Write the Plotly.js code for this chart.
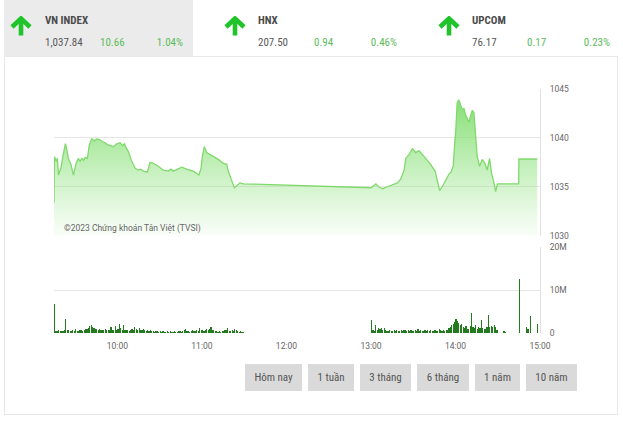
<!DOCTYPE html>
<html><head><meta charset="utf-8">
<script src="https://cdn.plot.ly/plotly-3.0.1.min.js"></script>
<style>
html,body{margin:0;padding:0;background:#fff;width:623px;height:421px;overflow:hidden;font-family:"Roboto Condensed","Liberation Sans Narrow",Roboto,"Noto Sans",sans-serif;}
#card{position:absolute;left:4px;top:56px;width:614px;height:359px;border:1px solid #e8e8e8;box-sizing:border-box;}
#tab1{position:absolute;left:4px;top:0;width:189px;height:56px;background:#ebebeb;}
#chart{position:absolute;left:0;top:0;width:623px;height:421px;}
.t{position:absolute;white-space:nowrap;font-size:11px;line-height:12px;z-index:5;}
.name{font-weight:bold;color:#4a4a4a;}
.val{color:#585858;}
.g{color:#5cbc5c;}
.r{text-align:right;}
.arr{position:absolute;z-index:5;}
.btn{position:absolute;top:364px;height:27px;line-height:27px;background:#dadada;color:#555;font-size:11px;text-align:center;z-index:5;}
</style></head>
<body>
<div id="card"></div>
<div id="tab1"></div>
<div id="chart"></div>
<div id="hdr"></div>
<div id="btns"></div>
<script>
// ---------- data ----------
const indexNames = ["VN INDEX", "HNX", "UPCOM"];
const indexValues = ["1,037.84", "207.50", "76.17"];
const indexChanges = ["10.66", "0.94", "0.17"];
const indexPercents = ["1.04%", "0.46%", "0.23%"];
const rangeButtons = ["Hôm nay", "1 tuần", "3 tháng", "6 tháng", "1 năm", "10 năm"];

const tradeDate = "2023-06-01";
const priceTimes = [
 "09:15:00","09:15:20","09:16:30","09:17:24","09:18:12","09:19:54","09:21:18","09:23:06","09:24:06","09:25:12",
 "09:27:00","09:28:48","09:30:42","09:32:18","09:33:30","09:34:48","09:36:00","09:37:06","09:38:42","09:40:06",
 "09:41:48","09:43:30","09:45:24","09:47:42","09:49:30","09:51:18","09:53:00","09:54:48","09:57:12","09:59:36",
 "10:01:54","10:03:48","10:05:00","10:06:12","10:07:48","10:10:12","10:12:36","10:14:54","10:16:30","10:18:24",
 "10:21:18","10:23:12","10:25:30","10:29:06","10:32:36","10:36:12","10:38:00","10:39:42","10:43:18","10:45:42",
 "10:49:12","10:53:54","10:57:54","10:59:24","11:00:18","11:01:42","11:03:24","11:05:42","11:08:48","11:11:36",
 "11:15:12","11:17:36","11:18:42","11:21:06","11:23:00","11:24:42","11:27:00","11:29:30",
 "13:00:00","13:01:06","13:03:30","13:05:18","13:08:12","13:11:42","13:15:12","13:18:48","13:21:12","13:23:30",
 "13:24:42","13:27:06","13:29:24","13:31:48","13:34:06","13:36:30","13:38:54","13:42:24","13:45:30","13:47:06",
 "13:48:48","13:50:36","13:53:00","13:55:24","13:56:48","13:58:24","13:59:36","14:00:06","14:01:12","14:02:24",
 "14:03:36","14:04:48","14:06:00","14:07:36","14:09:30","14:10:42","14:11:54","14:13:06","14:14:18","14:15:24",
 "14:17:06","14:19:00","14:20:54","14:22:30","14:24:12","14:25:36","14:27:18","14:28:30","14:29:36","14:30:00",
 "14:44:50","14:45:00","14:58:00"
];
const priceValues = [
 1033.4,1038.1,1037.6,1037.9,1036.2,1036.9,1038.1,1039.4,1038.8,1037.9,
 1037.3,1036.2,1037.4,1037.9,1037.6,1037.9,1037.7,1038.0,1037.9,1039.3,
 1039.9,1039.7,1039.9,1039.8,1039.6,1039.5,1039.3,1039.2,1039.1,1039.4,
 1039.5,1039.2,1039.4,1039.0,1038.6,1037.6,1036.9,1036.7,1036.8,1036.6,
 1036.5,1037.5,1037.4,1037.1,1036.7,1036.6,1036.8,1036.6,1036.8,1037.0,
 1036.8,1036.6,1036.2,1036.9,1038.1,1039.1,1038.5,1038.3,1038.1,1037.8,
 1037.4,1037.3,1036.6,1035.7,1034.9,1035.1,1035.4,1035.3,
 1034.9,1035.0,1035.3,1035.0,1034.8,1035.0,1035.2,1035.4,1035.8,1036.7,
 1037.9,1038.3,1038.9,1038.5,1038.7,1038.3,1037.8,1037.3,1036.6,1035.5,
 1034.6,1035.0,1035.7,1036.3,1036.5,1037.1,1039.8,1040.5,1043.6,1043.9,
 1043.4,1042.9,1043.0,1042.2,1041.6,1042.2,1042.8,1042.6,1040.2,1038.1,
 1037.1,1037.8,1037.4,1036.7,1037.9,1036.4,1035.4,1034.5,1035.2,1035.3,
 1035.3,1037.84,1037.84
];

// volume per minute, millions
const volMorning915 = [ // 09:15 - 09:59
 6.8,0.5,0.4,0.6,0.5,0.4,0.5,0.7,3.3,0.8,0.6,0.5,0.4,0.6,0.5,
 0.9,0.5,0.4,0.6,0.8,0.5,0.7,0.9,1.0,1.2,1.6,1.8,1.5,1.1,0.9,
 1.0,0.8,0.9,0.7,0.8,0.6,0.9,0.7,0.8,0.6,1.3,0.7,0.6,1.6,0.8
];
const volMorning1000 = [ // 10:00 - 10:59
 0.9,2.1,1.2,0.8,1.9,0.7,0.6,0.8,0.5,0.7,0.9,0.8,1.3,0.9,0.7,
 1.1,0.8,0.6,0.9,0.7,0.5,0.6,0.4,0.7,0.5,0.4,0.3,0.5,0.4,0.3,
 0.4,0.3,0.5,0.3,0.2,0.4,0.3,0.5,0.3,0.2,0.4,0.3,0.3,0.5,0.4,
 0.3,0.5,0.6,0.9,0.4,0.5,0.3,0.4,0.6,0.5,0.4,0.7,0.5,1.1,0.6
];
const volMorning1100 = [ // 11:00 - 11:29
 0.8,0.5,0.7,0.9,0.6,1.0,1.3,0.8,0.6,0.5,0.4,0.3,0.4,0.3,0.5,
 0.4,0.6,0.7,1.1,0.5,0.4,0.6,0.5,0.9,0.6,0.4,0.3,0.4,0.3,0.2
];
const volAfternoon1300 = [ // 13:00 - 13:59
 3.0,0.6,0.5,1.8,0.7,1.1,0.9,1.2,0.8,1.1,0.6,0.5,0.4,0.6,0.5,
 0.4,0.6,0.5,0.7,0.5,0.4,0.6,0.5,0.8,0.6,0.5,0.7,0.5,0.6,0.4,
 0.5,0.6,0.4,0.9,0.5,0.6,0.4,0.5,0.8,0.4,0.6,0.5,0.7,0.4,0.5,
 0.6,0.4,0.5,0.9,0.6,0.5,0.7,0.4,0.6,0.8,1.1,1.4,1.8,2.2,2.5
];
const volAfternoon1400 = [ // 14:00 - 14:29
 3.2,2.8,2.4,1.9,2.1,1.5,1.2,1.6,0.9,1.0,1.6,4.6,1.4,1.2,1.8,
 1.0,1.3,1.1,3.0,1.2,0.9,1.0,1.5,4.2,1.5,1.7,1.3,1.9,1.4,0.8
];
const volLateTimes = ["14:34","14:35","14:45","14:50","14:51","14:53","14:58"];
const volLateValues = [0.4,0.3,12.6,1.3,0.9,3.9,2.0];

const xTickTimes = ["10:00","11:00","12:00","13:00","14:00","15:00"];
const priceTicks = [1030,1035,1040,1045];
const volTicks = [0,10,20];
const volTickText = ["0","10M","20M"];
const watermark = "©2023 Chứng khoán Tân Việt (TVSI)";

// ---------- build ----------
function stamp(t){ return tradeDate + " " + (t.length===5 ? t+":00" : t); }
function minuteSeq(h, m, n){
  const out=[];
  for(let i=0;i<n;i++){ const tot=h*60+m+i; out.push(String(Math.floor(tot/60)).padStart(2,"0")+":"+String(tot%60).padStart(2,"0")); }
  return out;
}
const volTimes = [].concat(
  minuteSeq(9,15,volMorning915.length), minuteSeq(10,0,volMorning1000.length), minuteSeq(11,0,volMorning1100.length),
  minuteSeq(13,0,volAfternoon1300.length), minuteSeq(14,0,volAfternoon1400.length), volLateTimes);
const volValues = [].concat(volMorning915, volMorning1000, volMorning1100, volAfternoon1300, volAfternoon1400, volLateValues);

// header
const hdr = document.getElementById("hdr");
const arrowX = [9,223,437], textX=[45,258,472], chgX=[100,314,527], pctR=[183,397,610];
const arrowSvg = '<svg width="24" height="20" viewBox="0 0 24 20"><polyline points="3,11 12,2.5 21,11" fill="none" stroke="#1ec42a" stroke-width="4.6" stroke-linejoin="miter"/><line x1="12" y1="4" x2="12" y2="19.5" stroke="#1ec42a" stroke-width="4.6"/></svg>';
indexNames.forEach((n,i)=>{
  hdr.insertAdjacentHTML("beforeend",
   `<div class="arr" style="left:${arrowX[i]}px;top:16px">${arrowSvg}</div>`+
   `<div class="t name" style="left:${textX[i]}px;top:15px">${n}</div>`+
   `<div class="t val" style="left:${textX[i]}px;top:37px">${indexValues[i]}</div>`+
   `<div class="t g" style="left:${chgX[i]}px;top:37px">${indexChanges[i]}</div>`+
   `<div class="t g r" style="left:${pctR[i]-60}px;width:60px;top:37px">${indexPercents[i]}</div>`);
});
const btns = document.getElementById("btns");
const bx=[[245,57],[308,46],[360,51],[417,52],[475,45],[526,51]];
rangeButtons.forEach((b,i)=>{
  btns.insertAdjacentHTML("beforeend", `<div class="btn" style="left:${bx[i][0]}px;width:${bx[i][1]}px">${b}</div>`);
});

const tickFont = {family:"Roboto, 'Noto Sans', sans-serif", size:8.5, color:"#666"};
const traces = [
 {
  type:"scatter", mode:"lines", x: priceTimes.map(stamp), y: priceValues,
  line:{color:"#80d96c", width:1.3}, fill:"tozeroy",
  fillcolor:"rgba(140,225,125,0.4)",
  fillgradient:{type:"vertical", start:1030, stop:1043,
    colorscale:[[0,"rgba(150,228,135,0.06)"],[1,"rgba(130,222,112,0.9)"]]},
  xaxis:"x", yaxis:"y", hoverinfo:"skip"
 },
 {
  type:"bar", x: volTimes.map(stamp), y: volValues, width: 50000, offset: 0,
  marker:{color:"#237a1f", line:{width:0}}, xaxis:"x", yaxis:"y2", hoverinfo:"skip"
 }
];
const layout = {
  width:623, height:421, margin:{l:54,r:83,t:89,b:88},
  paper_bgcolor:"rgba(0,0,0,0)", plot_bgcolor:"rgba(0,0,0,0)",
  showlegend:false, bargap:0,
  font: tickFont,
  xaxis:{type:"date", anchor:"y2", range:[stamp("09:15"), stamp("15:00")],
    tickvals: xTickTimes.map(stamp), ticktext: xTickTimes,
    showgrid:false, zeroline:false, showline:false,
    ticks:"outside", ticklen:5, tickcolor:"rgba(0,0,0,0)", tickfont:tickFont, fixedrange:true},
  yaxis:{domain:[0.399,1], range:[1030,1045], side:"right", tickvals:priceTicks,
    showgrid:true, gridcolor:"#e6e6e6", gridwidth:1, zeroline:false,
    showline:true, linecolor:"#e0e0e0", linewidth:1,
    ticks:"outside", ticklen:7, tickcolor:"rgba(0,0,0,0)", tickfont:tickFont, fixedrange:true},
  yaxis2:{domain:[0,0.351], range:[0,20], side:"right", tickvals:volTicks, ticktext:volTickText,
    showgrid:true, gridcolor:"#e6e6e6", gridwidth:1, zeroline:false,
    showline:true, linecolor:"#e0e0e0", linewidth:1,
    ticks:"outside", ticklen:7, tickcolor:"rgba(0,0,0,0)", tickfont:tickFont, fixedrange:true},
  annotations:[{text:watermark, xref:"paper", yref:"paper", x:0.0165, y:0.43,
    xanchor:"left", yanchor:"middle", showarrow:false, font:{family:"Roboto, 'Noto Sans', sans-serif", size:8.5, color:"#666"}}]
};
Plotly.newPlot("chart", traces, layout, {displayModeBar:false, staticPlot:true});
</script>
</body></html>
